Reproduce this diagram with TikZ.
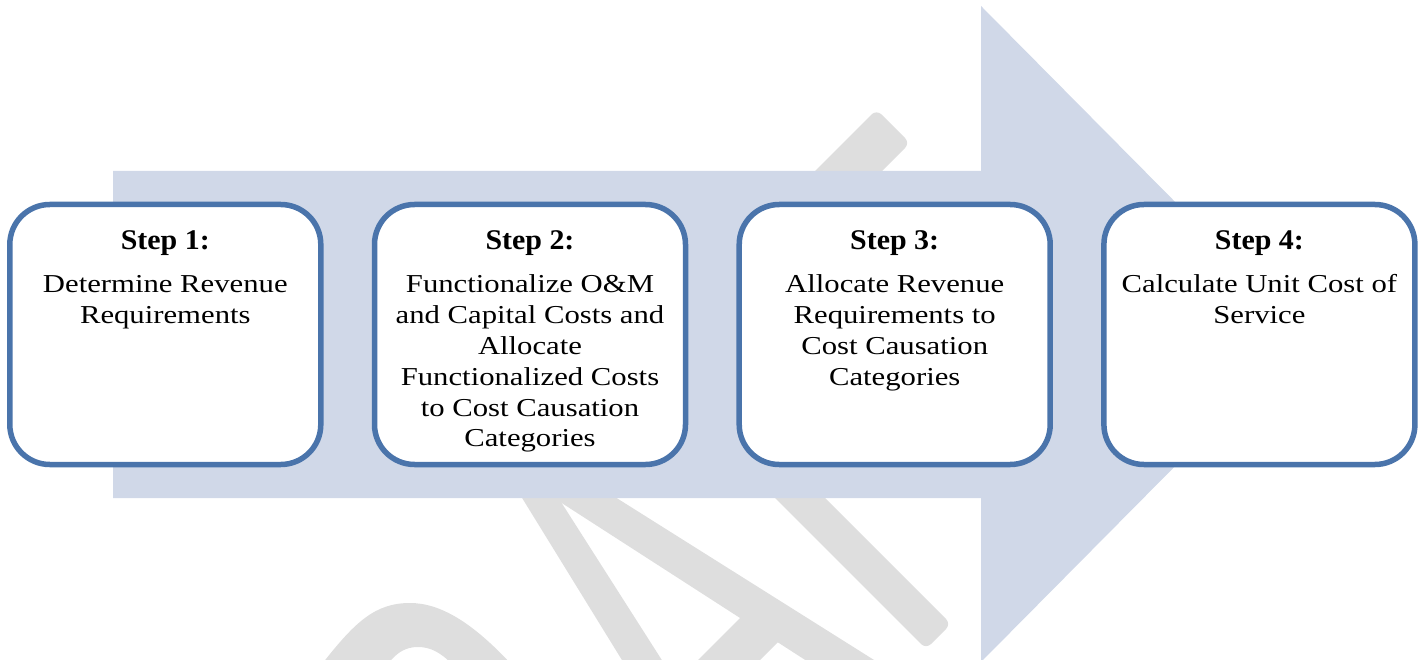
\documentclass[tikz,border=0pt]{standalone}
\usepackage{fontspec}
\newfontfamily\bodyfont{Liberation Serif}[FakeStretch=1.19]
\newfontfamily\headfont{Liberation Serif}[FakeStretch=1.05]

\definecolor{boxblue}{RGB}{74,116,171}
\definecolor{arrowfill}{RGB}{208,216,232}
\definecolor{wmgray}{RGB}{222,222,222}

% fixed-height strut so the first line's baseline sits a known distance below the node top
\newcommand{\toprule}{\rule{0pt}{20pt}}

\tikzset{
  stepbox/.style={draw=boxblue, line width=5.5pt, fill=white,
    rounded corners=40pt, minimum width=311pt, minimum height=260pt,
    inner sep=0pt},
  steptitle/.style={anchor=base, inner sep=0pt,
    font={\headfont\bfseries\fontsize{28.5}{34}\selectfont}},
  stepbody/.style={anchor=north, inner sep=0pt, align=center,
    font={\bodyfont\fontsize{25.8}{30.8}\selectfont}},
  wm/.style={fill=wmgray}
}

\begin{document}
\begin{tikzpicture}[x=1pt,y=-1pt]
\useasboundingbox (0,0) rectangle (1423,660);

% faint watermark lettering behind the process arrow
\begin{scope}
  \clip (0,0) rectangle (1423,660);
  \fill[wm, rounded corners=7pt] (736,250) -- (876.5,109.5) -- (910,143) -- (803,250) -- cycle;
  \fill[wm] (322,664) .. controls (355,622) and (375,603) .. (410,603)
            .. controls (440,603) and (472,622) .. (511,664)
            -- (452,664) .. controls (440,652) and (430,647) .. (418,647)
            .. controls (406,647) and (397,652) .. (388,664) -- cycle;
  \fill[wm] (511,480) -- (547,480) -- (665,665) -- (625,665) -- cycle;
  \fill[wm] (526,480) -- (588,480) -- (882,665) -- (813,665) -- cycle;
  \fill[wm] (759,599) -- (790,630) -- (690,730) -- (659,699) -- cycle;
  \fill[wm, rounded corners=7pt] (757,480) -- (926,649) -- (951,624) -- (807,480) -- cycle;
\end{scope}

% large background arrow
\fill[arrowfill] (113,171) -- (981,171) -- (981,6) -- (1306,334)
  -- (981,662) -- (981,498) -- (113,498) -- cycle;

% step boxes
\node[stepbox] (s1) at (165.3,334.5) {};
\node[stepbox] (s2) at (530,334.5) {};
\node[stepbox] (s3) at (894.7,334.5) {};
\node[stepbox] (s4) at (1259.4,334.5) {};

% titles
\node[steptitle] (t1) at ([yshift=-47.5pt]s1.north) {Step 1:};
\node[steptitle] (t2) at ([yshift=-47.5pt]s2.north) {Step 2:};
\node[steptitle] (t3) at ([yshift=-47.5pt]s3.north) {Step 3:};
\node[steptitle] (t4) at ([yshift=-47.5pt]s4.north) {Step 4:};

% descriptions
\node[stepbody] (b1) at ([yshift=-71pt]s1.north) {\toprule Determine Revenue\\Requirements};
\node[stepbody] (b2) at ([yshift=-71pt]s2.north) {\toprule Functionalize O\&M\\and Capital Costs and\\Allocate\\Functionalized Costs\\to Cost Causation\\Categories};
\node[stepbody] (b3) at ([yshift=-71pt]s3.north) {\toprule Allocate Revenue\\Requirements to\\Cost Causation\\Categories};
\node[stepbody] (b4) at ([yshift=-71pt]s4.north) {\toprule Calculate Unit Cost of\\Service};
\end{tikzpicture}
\end{document}
